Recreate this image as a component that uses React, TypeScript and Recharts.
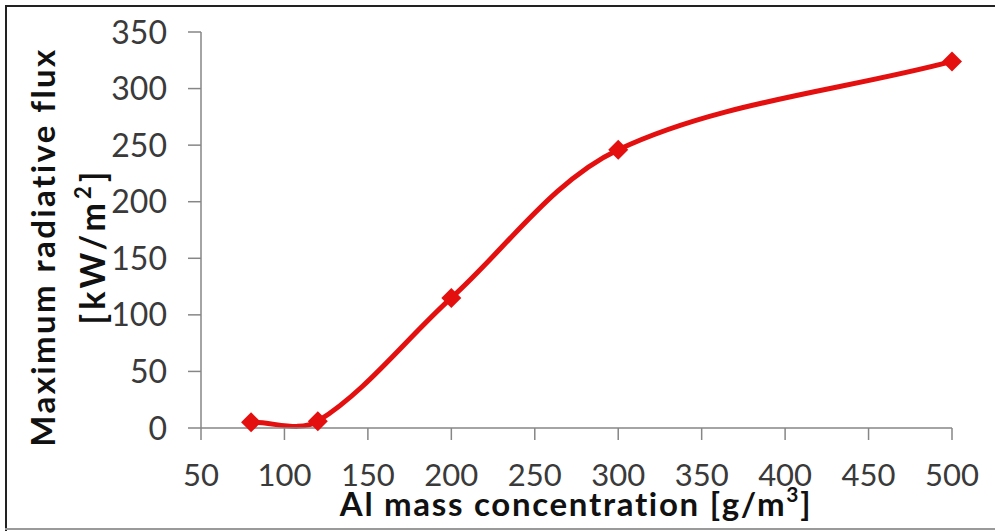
import React from 'react'
import { LineChart, Line, XAxis, YAxis, Label } from 'recharts'

// Al mass concentration [g/m3] vs max radiative flux [kW/m2]
const concentration = [80, 120, 200, 300, 500]
const maxFlux = [5, 6, 115, 246, 324]
const xTicks = [50, 100, 150, 200, 250, 300, 350, 400, 450, 500]
const yTicks = [0, 50, 100, 150, 200, 250, 300, 350]

const data = concentration.map((c, i) => ({ c, flux: maxFlux[i] }))

const FONT = 'Lato, "Open Sans", sans-serif'
const AXIS_GREY = '#868686'
const RED = '#e3100f'

// Excel-style smoothed line: bezier segments, tangents weighted by segment length
const excelCurve = (context: any) => {
  let pts: number[][] = []
  const dist = (a: number[], b: number[]) => Math.hypot(b[0] - a[0], b[1] - a[1])
  return {
    areaStart() {},
    areaEnd() {},
    lineStart() {
      pts = []
    },
    point(x: number, y: number) {
      pts.push([+x, +y])
    },
    lineEnd() {
      if (!pts.length) return
      context.moveTo(pts[0][0], pts[0][1])
      for (let i = 0; i < pts.length - 1; i++) {
        const p0 = pts[i - 1] || pts[i]
        const p1 = pts[i]
        const p2 = pts[i + 1]
        const p3 = pts[i + 2] || p2
        const d01 = dist(p0, p1)
        const d12 = dist(p1, p2)
        const d23 = dist(p2, p3)
        const k1 = d12 / (d01 + d12) / 3
        const k2 = d12 / (d12 + d23) / 3
        context.bezierCurveTo(
          p1[0] + (p2[0] - p0[0]) * k1,
          p1[1] + (p2[1] - p0[1]) * k1,
          p2[0] - (p3[0] - p1[0]) * k2,
          p2[1] - (p3[1] - p1[1]) * k2,
          p2[0],
          p2[1]
        )
      }
    },
  }
}

const Diamond = (props: any) => {
  const { cx, cy } = props
  if (cx == null || cy == null) return null
  const r = 10
  return (
    <polygon
      points={`${cx},${cy - r} ${cx + r},${cy} ${cx},${cy + r} ${cx - r},${cy}`}
      fill={RED}
    />
  )
}

const YTick = (props: any) => {
  const { x, y, payload } = props
  return (
    <text x={x} y={y + 11.5} textAnchor="end" fontFamily={FONT} fontSize={32} fill="#3a3a3a">
      {payload.value}
    </text>
  )
}

const XTick = (props: any) => {
  const { x, y, payload } = props
  return (
    <text x={x} y={y + 22} textAnchor="middle" fontFamily={FONT} fontSize={31} fill="#3a3a3a">
      {payload.value}
    </text>
  )
}

const YTitle = () => (
  <g fontFamily={FONT} fontWeight="bold" fill="#111">
    <text x={55} y={247} transform="rotate(-90, 55, 247)" textAnchor="middle" fontSize={33} letterSpacing={2.4}>
      Maximum radiative flux
    </text>
    <text x={105} y={246} transform="rotate(-90, 105, 246)" textAnchor="middle" fontSize={34} letterSpacing={4}>
      [kW/m<tspan fontSize={22} dy={-14}>2</tspan>
      <tspan dy={14}>]</tspan>
    </text>
  </g>
)

const XTitle = () => (
  <text
    x={576}
    y={516}
    textAnchor="middle"
    fontFamily={FONT}
    fontWeight="bold"
    fontSize={33}
    letterSpacing={1.7}
    fill="#111"
  >
    Al mass concentration [g/m<tspan fontSize={21} dy={-14}>3</tspan>
    <tspan dy={14}>]</tspan>
  </text>
)

export default function App() {
  return (
    <div style={{ position: 'absolute', left: 0, top: 0, width: 995, height: 531, background: '#fff' }}>
      <div style={{ position: 'absolute', left: 5, top: 5, width: 990, height: 2, background: '#222' }} />
      <div style={{ position: 'absolute', left: 5, top: 5, width: 2, height: 526, background: '#222' }} />
      <div style={{ position: 'absolute', left: 5, top: 528, width: 990, height: 2, background: '#9a9a9a' }} />
      <LineChart
        width={995}
        height={531}
        data={data}
        margin={{ top: 32, right: 43, left: 0, bottom: 0 }}
        style={{ position: 'absolute', left: 0, top: 0 }}
      >
        <XAxis
          dataKey="c"
          type="number"
          domain={[50, 500]}
          ticks={xTicks}
          interval={0}
          height={103}
          tickSize={12}
          tickMargin={24}
          stroke={AXIS_GREY}
          strokeWidth={1.5}
          tick={<XTick />}
        >
          <Label content={<XTitle />} />
        </XAxis>
        <YAxis
          type="number"
          domain={[0, 350]}
          ticks={yTicks}
          interval={0}
          width={201}
          tickSize={13}
          tickMargin={21}
          stroke={AXIS_GREY}
          strokeWidth={1.5}
          tick={<YTick />}
        >
          <Label content={<YTitle />} />
        </YAxis>
        <Line
          dataKey="flux"
          type={excelCurve as any}
          stroke={RED}
          strokeWidth={5}
          dot={<Diamond />}
          activeDot={false}
          isAnimationActive={false}
        />
      </LineChart>
    </div>
  )
}
